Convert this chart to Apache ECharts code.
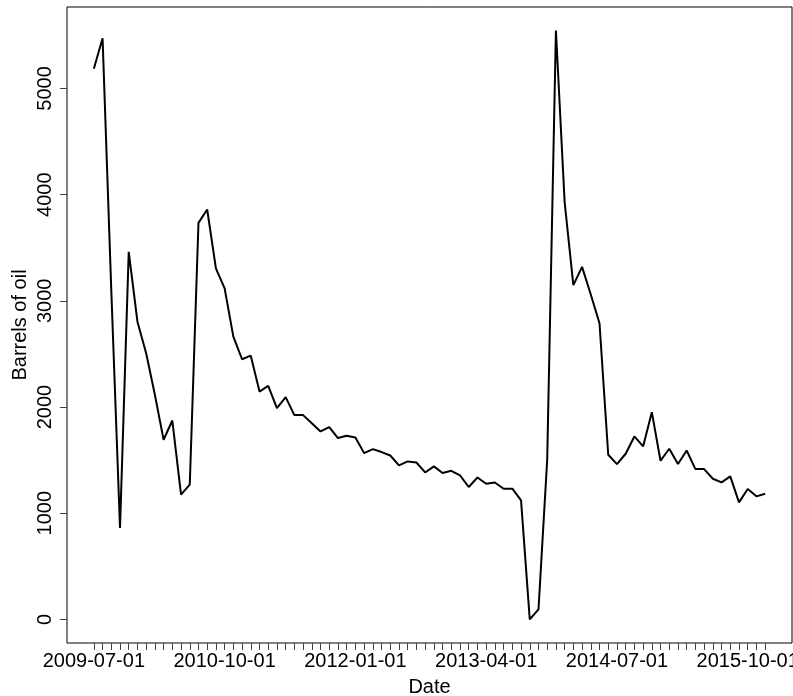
<!DOCTYPE html>
<html>
<head>
<meta charset="utf-8">
<script src="https://cdn.jsdelivr.net/npm/echarts@6/dist/echarts.min.js"></script>
<style>
html,body{margin:0;padding:0;background:#fff;}
#chart{width:793px;height:696px;}
</style>
</head>
<body>
<div id="chart"></div>
<script>
// Monthly observations starting 2009-07-01
const startYear = 2009, startMonth = 7;
const barrels = [
  5185, 5473, 3100, 862, 3461, 2804, 2506, 2115, 1692, 1873,
  1175, 1269, 3734, 3860, 3305, 3117, 2663, 2450, 2484, 2146,
  2199, 1990, 2093, 1924, 1924, 1848, 1770, 1811, 1708, 1729,
  1713, 1566, 1604, 1576, 1544, 1450, 1488, 1478, 1384, 1441,
  1379, 1400, 1356, 1247, 1337, 1278, 1290, 1231, 1231, 1121,
  0, 94, 1504, 5545, 3930, 3148, 3320, 3060, 2789, 1551,
  1463, 1560, 1723, 1629, 1952, 1494, 1607, 1463, 1591, 1416,
  1416, 1325, 1290, 1347, 1102, 1228, 1159, 1184
];
const dates = barrels.map((_, i) => {
  const m = startMonth - 1 + i;
  const y = startYear + Math.floor(m / 12);
  const mm = (m % 12) + 1;
  return y + '-' + String(mm).padStart(2, '0') + '-01';
});
const xLabelIdx = [0, 15, 30, 45, 60, 75];
const yTicks = [0, 1000, 2000, 3000, 4000, 5000];

const n = barrels.length;
const xPad = (n - 1) * 0.04;
const yMaxV = Math.max(...barrels), yMinV = Math.min(...barrels);
const yPad = (yMaxV - yMinV) * 0.04;
const font = 'Liberation Sans, Arial, sans-serif';

const chart = echarts.init(document.getElementById('chart'), null, {renderer: 'canvas'});
chart.setOption({
  animation: false,
  backgroundColor: '#fff',
  grid: {left: 67, right: 1, top: 7, bottom: 53, show: true, borderColor: '#000', borderWidth: 1,
         containLabel: false, outerBoundsMode: 'none'},
  xAxis: {
    type: 'value',
    min: -xPad, max: n - 1 + xPad,
    name: 'Date', nameLocation: 'middle', nameGap: 34, nameMoveOverlap: false,
    nameTextStyle: {fontFamily: font, fontSize: 20, color: '#000'},
    axisLine: {show: false, onZero: false},
    splitLine: {show: false},
    axisTick: {show: true, length: 7, customValues: dates.map((_, i) => i), lineStyle: {color: '#444', width: 1}},
    axisLabel: {
      customValues: xLabelIdx, margin: 8, hideOverlap: false,
      showMinLabel: true, showMaxLabel: true,
      fontFamily: font, fontSize: 20, color: '#000',
      formatter: v => dates[Math.round(v)]
    }
  },
  yAxis: {
    type: 'value',
    min: yMinV - yPad, max: yMaxV + yPad,
    name: 'Barrels of oil', nameLocation: 'middle', nameGap: 37, nameMoveOverlap: false,
    nameTextStyle: {fontFamily: font, fontSize: 20, color: '#000'},
    axisLine: {show: false, onZero: false},
    splitLine: {show: false},
    axisTick: {show: true, length: 7, customValues: yTicks, lineStyle: {color: '#444', width: 1}},
    axisLabel: {
      customValues: yTicks, rotate: 90, margin: 12,
      fontFamily: font, fontSize: 20, color: '#000',
      formatter: v => String(v)
    }
  },
  series: [{
    type: 'line',
    data: barrels.map((v, i) => [i, v]),
    symbol: 'none',
    lineStyle: {color: '#000', width: 2},
    z: 3
  }]
});
</script>
</body>
</html>
